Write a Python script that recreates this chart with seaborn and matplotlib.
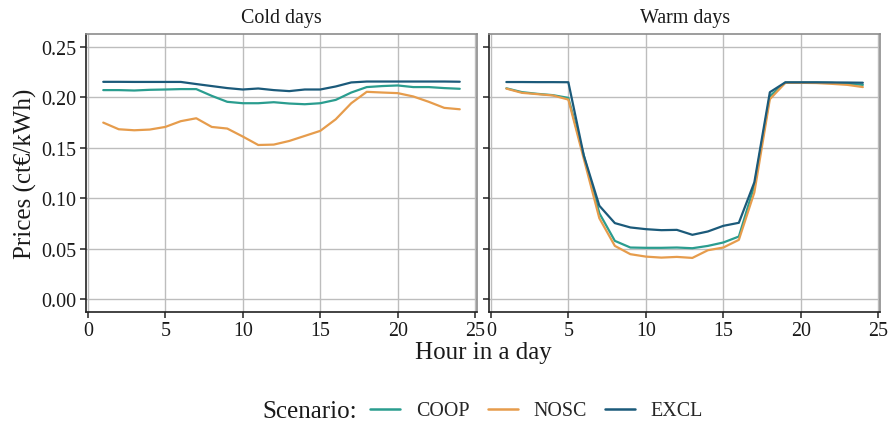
import numpy as np
import pandas as pd
import matplotlib
matplotlib.use("Agg")
import matplotlib.pyplot as plt
import seaborn as sns

# Hourly prices (ct€/kWh) per scenario and day type
hours = list(range(1, 25))
scenarios = ["COOP", "NOSC", "EXCL"]
panels = ["Cold days", "Warm days"]

cold_coop = [0.207, 0.207, 0.2066, 0.2073, 0.2076, 0.208, 0.208, 0.2013, 0.1954, 0.194,
             0.194, 0.195, 0.1937, 0.193, 0.194, 0.1973, 0.2046, 0.210, 0.211, 0.2116,
             0.210, 0.210, 0.209, 0.2083]
cold_nosc = [0.1748, 0.1682, 0.1672, 0.1679, 0.1705, 0.1762, 0.1791, 0.1705, 0.1689, 0.161,
             0.1526, 0.153, 0.1566, 0.1616, 0.1666, 0.1781, 0.194, 0.2053, 0.2046, 0.204,
             0.2007, 0.1954, 0.1894, 0.188]
cold_excl = [0.2152, 0.2152, 0.2151, 0.2151, 0.2151, 0.2151, 0.213, 0.211, 0.209, 0.2076,
             0.2086, 0.207, 0.206, 0.2076, 0.2076, 0.2106, 0.2146, 0.2155, 0.2155, 0.2155,
             0.2155, 0.2155, 0.2155, 0.2153]

warm_coop = [0.2088, 0.205, 0.2033, 0.202, 0.1993, 0.142, 0.085, 0.0576, 0.051, 0.0507,
             0.0507, 0.051, 0.0503, 0.0526, 0.056, 0.0619, 0.1123, 0.201, 0.2145, 0.2145,
             0.2145, 0.2142, 0.2132, 0.2122]
warm_nosc = [0.2085, 0.2043, 0.2030, 0.2017, 0.1976, 0.1387, 0.080, 0.0526, 0.0444, 0.042,
             0.041, 0.0417, 0.0407, 0.0483, 0.051, 0.0586, 0.1056, 0.198, 0.2142, 0.2142,
             0.2140, 0.2132, 0.2122, 0.2100]
warm_excl = [0.2150, 0.2150, 0.2149, 0.2149, 0.2148, 0.142, 0.0924, 0.0752, 0.0709, 0.0692,
             0.0682, 0.0685, 0.0636, 0.0669, 0.0725, 0.0755, 0.1156, 0.2049, 0.2147, 0.2147,
             0.2147, 0.2146, 0.2145, 0.2143]

x_ticks = [0, 5, 10, 15, 20, 25]
y_ticks = [0.00, 0.05, 0.10, 0.15, 0.20, 0.25]
y_tick_labels = ["0.00", "0.05", "0.10", "0.15", "0.20", "0.25"]

palette = {"COOP": "#2a9d8f", "NOSC": "#e69c4c", "EXCL": "#1b5a7a"}

series = {
    "Cold days": {"COOP": cold_coop, "NOSC": cold_nosc, "EXCL": cold_excl},
    "Warm days": {"COOP": warm_coop, "NOSC": warm_nosc, "EXCL": warm_excl},
}
rows = []
for panel in panels:
    for sc in scenarios:
        for h, v in zip(hours, series[panel][sc]):
            rows.append({"Panel": panel, "Scenario": sc, "Hour": h, "Price": v})
df = pd.DataFrame(rows)

sns.set_theme(style="white")
plt.rcParams["font.family"] = ["Liberation Serif", "DejaVu Serif"]

fig = plt.figure(figsize=(8.88, 4.35), dpi=100)
W, H = 888.0, 435.0
boxes = [(86.2, 35.1, 476.8, 312.6), (489.3, 35.1, 879.9, 312.6)]

axes = []
for i, panel in enumerate(panels):
    x0, y0, x1, y1 = boxes[i]
    ax = fig.add_axes([x0 / W, 1 - y1 / H, (x1 - x0) / W, (y1 - y0) / H])
    sns.lineplot(data=df[df["Panel"] == panel], x="Hour", y="Price", hue="Scenario",
                 hue_order=scenarios, palette=palette, linewidth=1.6, ax=ax,
                 legend=(i == 0))
    ax.set_xlim(-0.1, 25.1)
    ax.set_ylim(-0.0125, 0.2625)
    ax.set_xticks(x_ticks)
    ax.set_yticks(y_ticks)
    ax.set_xticklabels([str(t) for t in x_ticks], fontsize=14.4)
    if i == 0:
        ax.set_yticklabels(y_tick_labels, fontsize=14.4)
    else:
        ax.set_yticklabels([])
    ax.set_xlabel("")
    ax.set_ylabel("")
    ax.grid(True, color="#bdbdbd", linewidth=1.0)
    ax.set_axisbelow(True)
    for side in ["top", "right"]:
        ax.spines[side].set_color("#8c8c8c")
        ax.spines[side].set_linewidth(1.2)
    for side in ["left", "bottom"]:
        ax.spines[side].set_color("#222222")
        ax.spines[side].set_linewidth(1.2)
    ax.tick_params(axis="both", which="both", direction="out", length=4, width=1.1,
                   color="#222222", labelcolor="#1a1a1a", pad=3,
                   left=True, bottom=True)
    ax.set_title(panel, fontsize=14.4, pad=9, color="#1a1a1a")
    axes.append(ax)

handles, labels = axes[0].get_legend_handles_labels()
axes[0].get_legend().remove()

fig.text(25 / W, 1 - 174 / H, "Prices (ct€/kWh)", rotation=90, ha="center", va="center",
         fontsize=18, color="#1a1a1a")
fig.text(483 / W, 1 - 353 / H, "Hour in a day", ha="center", va="center",
         fontsize=18, color="#1a1a1a")

fig.text(262 / W, 1 - 412 / H, "Scenario:", ha="left", va="center", fontsize=18,
         color="#1a1a1a")
leg = fig.legend(handles, labels, loc="center left", bbox_to_anchor=(370 / W, 1 - 412 / H),
                 ncol=3, frameon=False, fontsize=14.4, handlelength=1.5,
                 handletextpad=0.8, columnspacing=0.9, borderpad=0, borderaxespad=0)
for line in leg.get_lines():
    line.set_linewidth(1.8)

fig.savefig("out.png", dpi=100, facecolor="white")
